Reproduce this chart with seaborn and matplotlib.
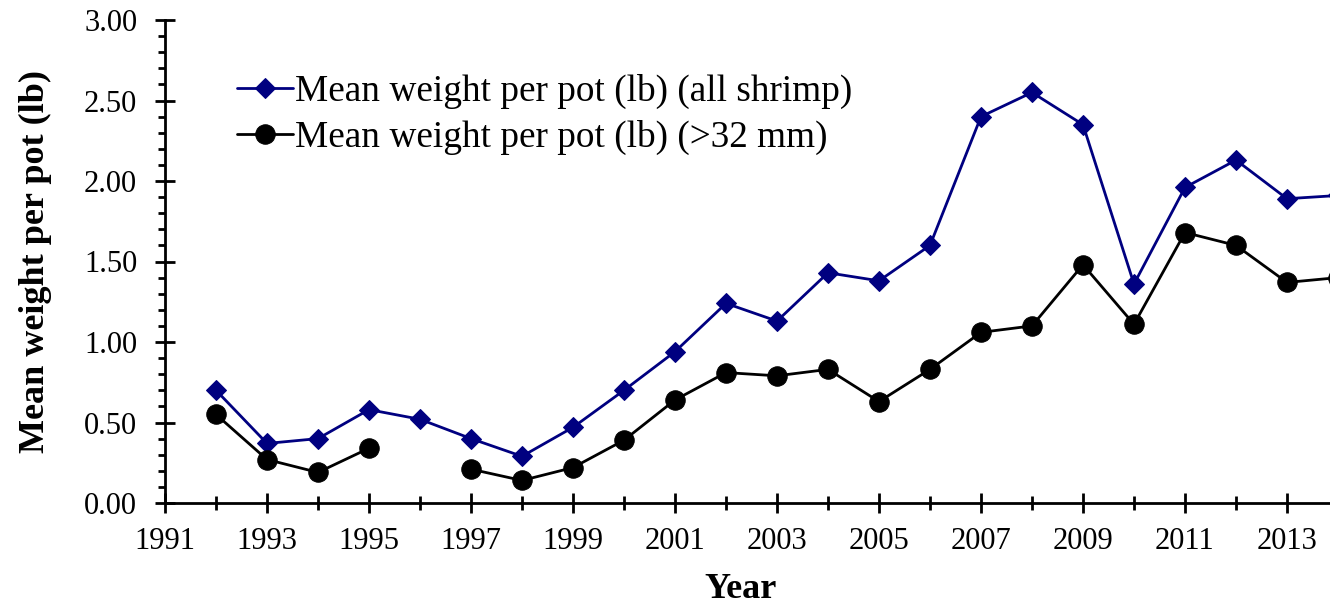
import numpy as np
import pandas as pd
import matplotlib
matplotlib.use("Agg")
import matplotlib.pyplot as plt
from matplotlib.ticker import MultipleLocator, FormatStrFormatter
import seaborn as sns

years = list(range(1992, 2015))
all_shrimp = [0.70, 0.37, 0.40, 0.58, 0.52, 0.40, 0.29, 0.47, 0.70, 0.94, 1.24, 1.13,
              1.43, 1.38, 1.60, 2.40, 2.55, 2.35, 1.36, 1.96, 2.13, 1.89, 1.91]
over_32mm = [0.55, 0.27, 0.19, 0.34, np.nan, 0.21, 0.14, 0.22, 0.39, 0.64, 0.81, 0.79,
             0.83, 0.63, 0.83, 1.06, 1.10, 1.48, 1.11, 1.68, 1.60, 1.37, 1.40]
label_all = "Mean weight per pot (lb) (all shrimp)"
label_32 = "Mean weight per pot (lb) (>32 mm)"

sns.set_theme(style="ticks")
plt.rcParams['font.family'] = ['Liberation Serif', 'DejaVu Serif']

df = pd.DataFrame({"Year": years, "all": all_shrimp, "big": over_32mm})
# segment ids so that missing values break the line
df["seg"] = df["big"].isna().cumsum()
df_big = df.dropna(subset=["big"])

fig = plt.figure(figsize=(13.3, 6.06), dpi=100)
ax = fig.add_axes([165/1330, 103/606, 1165/1330, 483/606])

sns.lineplot(data=df, x="Year", y="all", ax=ax, color="#000080", marker="D",
             markersize=10, markeredgecolor="#000080", linewidth=2)
sns.lineplot(data=df_big, x="Year", y="big", units="seg", estimator=None, ax=ax,
             color="black", marker="o", markersize=14, markeredgecolor="black",
             linewidth=2)

ax.set_xlim(1991, 1991 + 1165/51)
ax.set_ylim(0, 3.0)
ax.xaxis.set_major_locator(MultipleLocator(2, offset=1))
ax.xaxis.set_minor_locator(MultipleLocator(1))
ax.yaxis.set_major_locator(MultipleLocator(0.5))
ax.yaxis.set_minor_locator(MultipleLocator(0.1))
ax.yaxis.set_major_formatter(FormatStrFormatter("%.2f"))

for s in ["top", "right"]:
    ax.spines[s].set_visible(False)
for s in ["left", "bottom"]:
    ax.spines[s].set_linewidth(2)
    ax.spines[s].set_color("black")

ax.tick_params(axis="both", which="major", direction="inout", length=14, width=2,
               labelsize=22, colors="black")
ax.tick_params(axis="y", which="major", pad=13)
ax.tick_params(axis="x", which="major", pad=10)
ax.tick_params(axis="x", which="minor", direction="inout", length=10, width=2, colors="black")
ax.tick_params(axis="y", which="minor", direction="out", length=5, width=2, colors="black")

ax.set_xlabel("Year", fontsize=26, fontweight="bold", color="black")
ax.set_ylabel("Mean weight per pot (lb)", fontsize=26, fontweight="bold", color="black")
ax.xaxis.set_label_coords(0.494, -0.145)
ax.yaxis.set_label_coords(-0.097, 0.5)

lines = ax.get_lines()
handles = [lines[0], lines[1]]
leg = ax.legend(handles, [label_all, label_32], loc="upper left",
                bbox_to_anchor=(237/1330, 1 - 74/606),
                bbox_transform=fig.transFigure, frameon=False, fontsize=26.8,
                borderpad=0, borderaxespad=0, handlelength=1.5, handletextpad=0.05,
                labelspacing=0.3)
for t in leg.get_texts():
    t.set_color("black")

fig.savefig("out.png", dpi=100)
